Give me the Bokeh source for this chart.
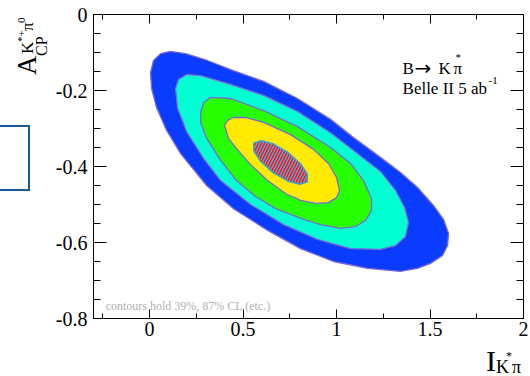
from bokeh.plotting import figure
from bokeh.models import Range1d, FixedTicker, LinearAxis, Label, Div, CustomJSTickFormatter
from bokeh.layouts import row, column
from bokeh.embed import file_html
from bokeh.resources import INLINE

FONT = "Liberation Serif"

# ---------------- data ----------------
x_ticks = [0.0, 0.5, 1.0, 1.5, 2.0]
x_tick_labels = ["0", "0.5", "1", "1.5", "2"]
x_minor_ticks = [-0.25, 0.25, 0.75, 1.25, 1.75]
y_ticks = [-0.8, -0.6, -0.4, -0.2, 0.0]
y_tick_labels = ["-0.8", "-0.6", "-0.4", "-0.2", "0"]
y_minor_ticks = [-0.75, -0.7, -0.65, -0.55, -0.5, -0.45,
                 -0.35, -0.3, -0.25, -0.15, -0.1, -0.05]

# contour boundaries (I_K*pi, A_CP)
blue_x = [0.005, 0.021, 0.059, 0.112, 0.193, 0.310, 0.433, 0.610, 0.791, 0.968,
          1.091, 1.235, 1.342, 1.433, 1.519, 1.572, 1.599, 1.594, 1.567, 1.503,
          1.433, 1.342, 1.166, 0.984, 0.807, 0.631, 0.449, 0.305, 0.166, 0.091,
          0.037, 0.011]
blue_y = [-0.153, -0.121, -0.103, -0.097, -0.103, -0.121, -0.145, -0.176, -0.221, -0.276,
          -0.324, -0.376, -0.416, -0.455, -0.503, -0.539, -0.576, -0.608, -0.634, -0.655,
          -0.668, -0.676, -0.668, -0.650, -0.616, -0.568, -0.511, -0.450, -0.366, -0.305,
          -0.245, -0.195]

cyan_x = [0.139, 0.155, 0.198, 0.273, 0.433, 0.610, 0.791, 0.968, 1.091, 1.235,
          1.316, 1.364, 1.385, 1.369, 1.316, 1.235, 1.075, 0.898, 0.717, 0.540,
          0.380, 0.289, 0.198, 0.150]
cyan_y = [-0.195, -0.171, -0.158, -0.161, -0.184, -0.213, -0.255, -0.311, -0.358, -0.413,
          -0.463, -0.508, -0.547, -0.584, -0.608, -0.618, -0.616, -0.592, -0.553, -0.500,
          -0.437, -0.379, -0.308, -0.247]

green_x = [0.273, 0.289, 0.326, 0.433, 0.610, 0.791, 0.968, 1.075, 1.144, 1.187,
           1.187, 1.155, 1.102, 1.021, 0.914, 0.824, 0.674, 0.567, 0.465, 0.380,
           0.305, 0.273]
green_y = [-0.258, -0.232, -0.218, -0.221, -0.253, -0.295, -0.350, -0.392, -0.437, -0.484,
           -0.516, -0.542, -0.558, -0.563, -0.553, -0.539, -0.511, -0.479, -0.437, -0.384,
           -0.326, -0.284]

yellow_x = [0.401, 0.417, 0.449, 0.513, 0.610, 0.754, 0.877, 0.957, 1.000, 1.016,
            1.000, 0.957, 0.888, 0.807, 0.727, 0.631, 0.540, 0.465, 0.422]
yellow_y = [-0.292, -0.279, -0.271, -0.271, -0.284, -0.316, -0.355, -0.392, -0.429, -0.463,
            -0.482, -0.495, -0.497, -0.489, -0.471, -0.437, -0.395, -0.353, -0.326]

red_x = [0.843, 0.804, 0.738, 0.661, 0.595, 0.557, 0.558, 0.597, 0.663, 0.740, 0.806, 0.844]
red_y = [-0.441, -0.447, -0.438, -0.416, -0.387, -0.359, -0.338, -0.332, -0.341, -0.363,
         -0.392, -0.420]

contour_fill = ["#0a3cff", "#00ffd2", "#26ff00", "#ffea00"]
contour_line = "#7a6ad8"

# ---------------- figure ----------------
p = figure(width=480, height=344,
           x_range=Range1d(-0.3, 2.0), y_range=Range1d(-0.8, 0.0),
           output_backend="svg", toolbar_location=None,
           min_border_left=43, min_border_right=7,
           min_border_top=14, min_border_bottom=26)
p.grid.visible = False
p.outline_line_color = "black"
p.outline_line_width = 1
p.background_fill_color = "white"
p.border_fill_color = "white"

p.patches(xs=[blue_x, cyan_x, green_x, yellow_x],
          ys=[blue_y, cyan_y, green_y, yellow_y],
          fill_color=contour_fill, line_color=contour_line, line_width=1.3)
p.patch(red_x, red_y, fill_color="#ff1010", line_color="#3aa0d8", line_width=1.5,
        hatch_pattern="/", hatch_color="#4ab4e6", hatch_scale=6, hatch_weight=1.3)


def style_axis(ax, tick_in, minor_in, labels=True):
    ax.axis_line_color = "black"
    ax.axis_line_width = 1
    ax.major_tick_in = tick_in
    ax.major_tick_out = 0
    ax.minor_tick_in = minor_in
    ax.minor_tick_out = 0
    ax.major_tick_line_color = "black"
    ax.minor_tick_line_color = "black"
    ax.major_label_text_font = FONT
    ax.major_label_text_color = "black"
    if labels:
        ax.major_label_text_font_size = "20px"
    else:
        ax.formatter = CustomJSTickFormatter(code="return ''")
        ax.major_label_text_font_size = "1px"
        ax.major_label_standoff = 0


xa = p.xaxis[0]
xa.ticker = FixedTicker(ticks=x_ticks, minor_ticks=x_minor_ticks)
xa.major_label_overrides = dict(zip(x_ticks, x_tick_labels))
style_axis(xa, 9, 5)
xa.major_label_standoff = 3

ya = p.yaxis[0]
ya.ticker = FixedTicker(ticks=y_ticks, minor_ticks=y_minor_ticks)
ya.major_label_overrides = dict(zip(y_ticks, y_tick_labels))
style_axis(ya, 13, 7)
ya.major_label_standoff = 6

top = LinearAxis(ticker=FixedTicker(ticks=x_ticks, minor_ticks=x_minor_ticks))
style_axis(top, 9, 5, labels=False)
p.add_layout(top, "above")
right = LinearAxis(ticker=FixedTicker(ticks=y_ticks, minor_ticks=y_minor_ticks))
style_axis(right, 13, 7, labels=False)
p.add_layout(right, "right")


# ---------------- in-plot texts ----------------
def lab(x, y, text, size, dx=0, color="black", font=FONT):
    p.add_layout(Label(x=x, y=y, x_offset=dx, text=text, text_font=font,
                       text_font_size=size, text_color=color, text_align="left",
                       text_baseline="alphabetic"))


lab(1.353, -0.142, "B", "17px")
lab(1.353, -0.142, "\u2192", "20px", dx=12, font="DejaVu Sans")
lab(1.353, -0.142, "K", "17px", dx=36)
lab(1.353, -0.113, "*", "11px", dx=53)
lab(1.353, -0.142, "\u03c0", "17px", dx=51)
lab(1.353, -0.195, "Belle II 5 ab", "17px")
lab(1.353, -0.174, "-1", "11px", dx=86)
lab(-0.235, -0.766, "contours hold 39%, 87% CL (etc.)", "12px", color="#b0b0b0")


# ---------------- axis titles (HTML, outside the frame) ----------------
def span(left, top, text, size, rotate=False, lh=1.0):
    rot = "transform:rotate(-90deg);transform-origin:0 0;" if rotate else ""
    return (f'<span style="position:absolute;left:{left}px;top:{top}px;'
            f'font-size:{size}px;line-height:{lh};white-space:nowrap;{rot}">{text}</span>')


ytitle_html = (
    f'<div style="position:relative;width:50px;height:376px;overflow:hidden;'
    f'font-family:\'{FONT}\';color:black;">'
    + span(14.4, 75, "A", 27, True)
    + span(33.6, 56, "CP", 16, True)
    + span(18.8, 54, "K", 17, True)
    + span(15.8, 42, "*+", 11, True)
    + span(18.8, 31, "\u03c0", 17, True)
    + span(15.8, 23, "0", 11, True)
    + '<div style="position:absolute;left:-10px;top:125px;width:40px;height:66px;'
      'border:2px solid #1a5a9a;border-left:none;"></div>'
    + '</div>'
)
ytitle = Div(text=ytitle_html, width=50, height=376, margin=0)

xtitle_html = (
    f'<div style="position:relative;width:480px;height:32px;'
    f'font-family:\'{FONT}\';color:black;">'
    + span(436, 4.9, "I", 30, lh=0.8)
    + span(446, 16.2, "K", 18, lh=0.8)
    + span(456, 9.35, "*", 12, lh=0.6)
    + span(462, 16.2, "\u03c0", 18, lh=0.8)
    + '</div>'
)
xtitle = Div(text=xtitle_html, width=480, height=32, margin=0)

layout = row(ytitle, column(p, xtitle, spacing=0), spacing=0)

open("out.html", "w").write(file_html(layout, INLINE))
